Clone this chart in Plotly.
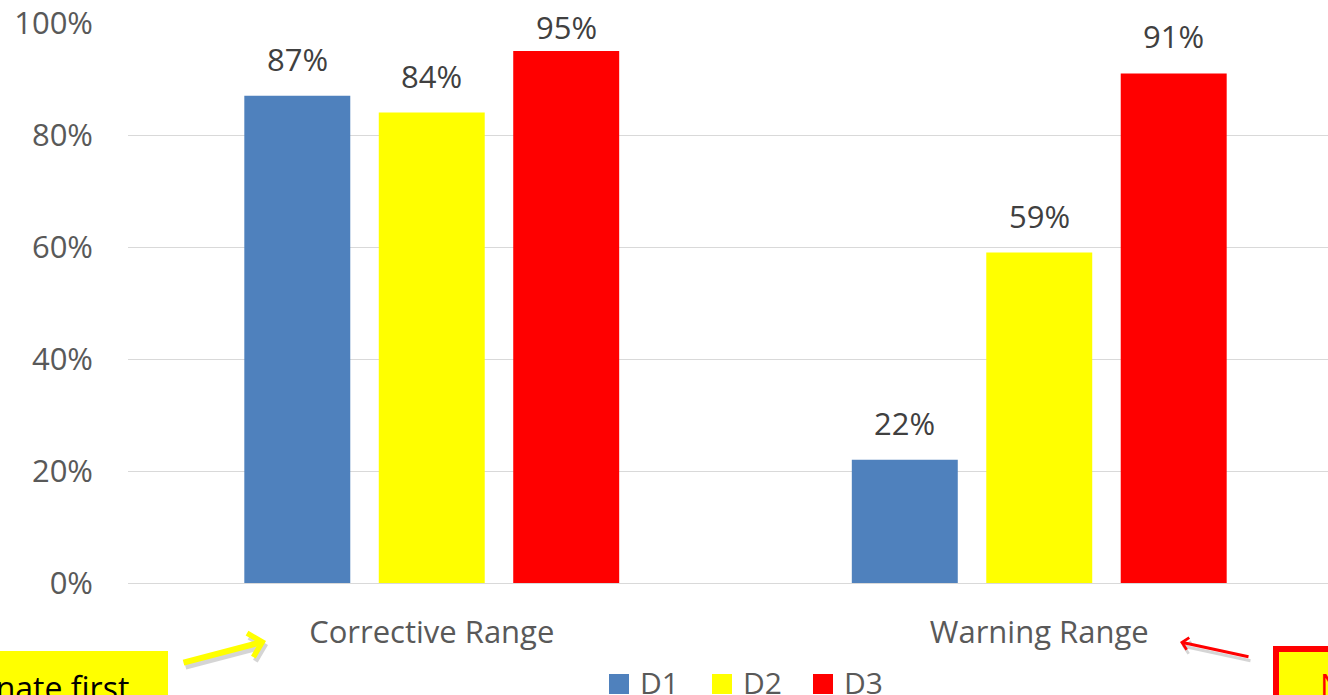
import plotly.graph_objects as go

# Chart data
categories = ["Corrective Range", "Warning Range"]
series_names = ["D1", "D2", "D3"]
d1_values = [87, 22]
d2_values = [84, 59]
d3_values = [95, 91]
series_values = [d1_values, d2_values, d3_values]
series_colors = ["#4f81bd", "#ffff00", "#ff0000"]
y_ticks = [0, 20, 40, 60, 80, 100]
y_tick_labels = [f"{v}%" for v in y_ticks]

W, H = 1328, 695
L, T, B = 128, 23, 112
PLOT_W = 1200
PLOT_H = H - T - B
Y_MAX = 100


def px(x):
    """Page pixel x -> paper fraction."""
    return (x - L) / PLOT_W


def py(y):
    """Page pixel y -> paper fraction."""
    return (H - B - y) / PLOT_H


FONT = "Open Sans"

fig = go.Figure()
for name, vals, col in zip(series_names, series_values, series_colors):
    fig.add_trace(go.Bar(
        x=categories, y=vals, name=name,
        marker=dict(color=col, line=dict(width=0)),
        showlegend=False, hoverinfo="skip",
    ))

# Value labels above each bar; labels near the top are nudged down so
# they stay inside the figure.
slot_px = 134.5
annotations = []
for i, vals in enumerate(series_values):
    for cat, v in zip(categories, vals):
        headroom = T + PLOT_H * (1 - v / Y_MAX)  # pixels above the bar top
        shift = min(14, headroom - 50)
        annotations.append(dict(
            x=cat, y=v, xref="x", yref="y", text=f"{v}%",
            showarrow=False, xanchor="center", yanchor="bottom",
            xshift=(i - 1) * slot_px, yshift=shift,
            font=dict(family=FONT, size=31, color="#404040"),
        ))

# Legend drawn as squares plus labels
legend_sq_x = [609, 712, 813]
shapes = []
for name, col, x0 in zip(series_names, series_colors, legend_sq_x):
    shapes.append(dict(type="rect", xref="paper", yref="paper",
                       x0=px(x0), x1=px(x0 + 20), y0=py(694), y1=py(674),
                       fillcolor=col, line=dict(width=0)))
    annotations.append(dict(
        x=px(x0 + 29), y=py(682), xref="paper", yref="paper", text=name,
        showarrow=False, xanchor="left", yanchor="middle",
        font=dict(family=FONT, size=30, color="#595959"),
    ))

# Callout boxes
shapes.append(dict(type="rect", xref="paper", yref="paper",
                   x0=px(-20), x1=px(168), y0=py(720), y1=py(651),
                   fillcolor="#ffff00", line=dict(width=0), layer="above"))
annotations.append(dict(
    x=px(131), y=py(664), xref="paper", yref="paper", text="Eliminate first",
    showarrow=False, xanchor="right", yanchor="top",
    font=dict(family=FONT, size=32, color="#000000"),
))
shapes.append(dict(type="rect", xref="paper", yref="paper",
                   x0=px(1276), x1=px(1420), y0=py(730), y1=py(649),
                   fillcolor="#ffff00", line=dict(width=6, color="#ff0000"),
                   layer="above"))
annotations.append(dict(
    x=px(1318), y=py(662), xref="paper", yref="paper", text="Needs review",
    showarrow=False, xanchor="left", yanchor="top",
    font=dict(family=FONT, size=32, color="#ff0000"),
))

# Arrows (soft shadow first, then the arrow itself)
arrows = [
    ((266, 641), (182, 663), "#ffff00", 6),
    ((1180, 642), (1250, 657), "#ff0000", 3),
]
for (hx, hy), (tx, ty), col, w in arrows:
    for dx, dy, c in [(2, 4, "rgba(0,0,0,0.16)"), (0, 0, col)]:
        annotations.append(dict(
            x=px(hx + dx), y=py(hy + dy), xref="paper", yref="paper",
            ax=tx - hx, ay=ty - hy, axref="pixel", ayref="pixel",
            text="", showarrow=True, arrowhead=4, arrowsize=0.8,
            arrowwidth=w, arrowcolor=c,
        ))

fig.update_layout(
    width=W, height=H,
    margin=dict(l=L, r=0, t=T, b=B, pad=0),
    paper_bgcolor="white", plot_bgcolor="white",
    barmode="group", bargap=0.336, bargroupgap=0.212,
    font=dict(family=FONT, size=31, color="#595959"),
    xaxis=dict(
        range=[-0.5, -0.5 + PLOT_W / 607.5], showgrid=False, showline=False,
        ticks="", ticklabelstandoff=28, zeroline=False,
        tickfont=dict(family=FONT, size=31, color="#595959"),
    ),
    yaxis=dict(
        range=[0, Y_MAX], tickvals=y_ticks, ticktext=y_tick_labels,
        showgrid=True, gridcolor="#d9d9d9", gridwidth=1,
        zeroline=True, zerolinecolor="#d9d9d9", zerolinewidth=1,
        showline=False, ticks="", ticklabelstandoff=34,
        tickfont=dict(family=FONT, size=31, color="#595959"),
    ),
    shapes=shapes, annotations=annotations,
    showlegend=False, hovermode=False,
)

fig.write_html("out.html", config=dict(displayModeBar=False))
